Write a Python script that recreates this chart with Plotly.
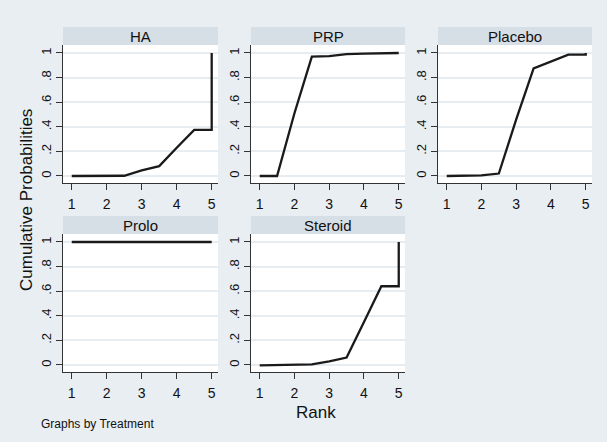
import plotly.graph_objects as go

# ---- data ----
treatments = ["HA", "PRP", "Placebo", "Prolo", "Steroid"]
rank_x = [1, 1.5, 2, 2.5, 3, 3.5, 4, 4.5, 5, 5]
cum_HA = [0, 0, 0, 0.002, 0.045, 0.08, 0.23, 0.375, 0.375, 1]
cum_PRP = [0, 0, 0.51, 0.97, 0.975, 0.99, 0.995, 1, 1, 1]
cum_Placebo = [0, 0, 0.005, 0.02, 0.46, 0.875, 0.93, 0.986, 0.986, 1]
cum_Prolo = [1, 1, 1, 1, 1, 1, 1, 1, 1, 1]
cum_Steroid = [-0.003, 0, 0.005, 0.005, 0.03, 0.06, 0.35, 0.64, 0.64, 1]
series = [cum_HA, cum_PRP, cum_Placebo, cum_Prolo, cum_Steroid]
x_ticks = [1, 2, 3, 4, 5]
y_ticks = [0, 0.2, 0.4, 0.6, 0.8, 1]
y_ticklabels = ["0", ".2", ".4", ".6", ".8", "1"]

W, H = 607, 442
BG = "#e8eef2"
HEAD = "#d6dee6"
GRID = "#e6edf2"
FONT = "Arial, Liberation Sans, sans-serif"

# panel pixel boxes (left, right, top, bottom)
cols = [(63, 218), (251, 405), (438, 592)]
rows = [(45, 183), (234, 372)]
header_h = 18

fig = go.Figure()
layout = {}
shapes = []
annotations = []
for i, (name, vals) in enumerate(zip(treatments, series)):
    r, c = divmod(i, 3)
    l, rgt = cols[c]
    t, b = rows[r]
    ax = "" if i == 0 else str(i + 1)
    fig.add_trace(go.Scatter(x=rank_x, y=vals, mode="lines",
                             line=dict(color="#1a1a1a", width=2.3),
                             xaxis="x" + ax, yaxis="y" + ax,
                             showlegend=False, hoverinfo="skip"))
    layout["xaxis" + ax] = dict(
        domain=[l / W, rgt / W], anchor="y" + ax, range=[0.75, 5.18],
        tickvals=x_ticks, ticks="outside", ticklen=6, tickcolor="#333",
        ticklabelstandoff=2,
        showline=True, linecolor="#333", linewidth=1.3, showgrid=False,
        zeroline=False, tickfont=dict(size=14, color="#111", family=FONT),
    )
    layout["yaxis" + ax] = dict(
        domain=[1 - b / H, 1 - t / H], anchor="x" + ax, range=[-0.057, 1.065],
        tickvals=y_ticks, ticktext=y_ticklabels, ticks="outside", ticklen=6,
        tickcolor="#333", tickangle=-90, showline=True, linecolor="#333",
        linewidth=1.3, showgrid=True, gridcolor=GRID, gridwidth=2,
        zeroline=False, tickfont=dict(size=13, color="#111", family=FONT),
    )
    shapes.append(dict(type="rect", xref="paper", yref="paper",
                       x0=l / W, x1=rgt / W, y0=1 - t / H, y1=1 - (t - header_h) / H,
                       fillcolor=HEAD, line=dict(width=0), layer="below"))
    annotations.append(dict(text=name, xref="paper", yref="paper",
                            x=(l + rgt) / 2 / W, y=1 - (t - header_h / 2) / H,
                            showarrow=False, xanchor="center", yanchor="middle",
                            font=dict(size=15, color="#111", family=FONT)))

annotations.append(dict(text="Cumulative Probabilities", xref="paper", yref="paper",
                        x=27 / W, y=1 - 200 / H, textangle=-90, showarrow=False,
                        xanchor="center", yanchor="middle",
                        font=dict(size=17, color="#111", family=FONT)))
annotations.append(dict(text="Rank", xref="paper", yref="paper",
                        x=316 / W, y=1 - 412 / H, showarrow=False,
                        xanchor="center", yanchor="middle",
                        font=dict(size=17, color="#111", family=FONT)))
annotations.append(dict(text="Graphs by Treatment", xref="paper", yref="paper",
                        x=39 / W, y=1 - 424 / H, showarrow=False,
                        xanchor="left", yanchor="middle",
                        font=dict(size=12, color="#111", family=FONT)))

fig.update_layout(
    width=W, height=H, margin=dict(l=0, r=0, t=0, b=0),
    paper_bgcolor=BG, plot_bgcolor="white",
    shapes=shapes, annotations=annotations, **layout,
)
fig.write_html("out.html")
